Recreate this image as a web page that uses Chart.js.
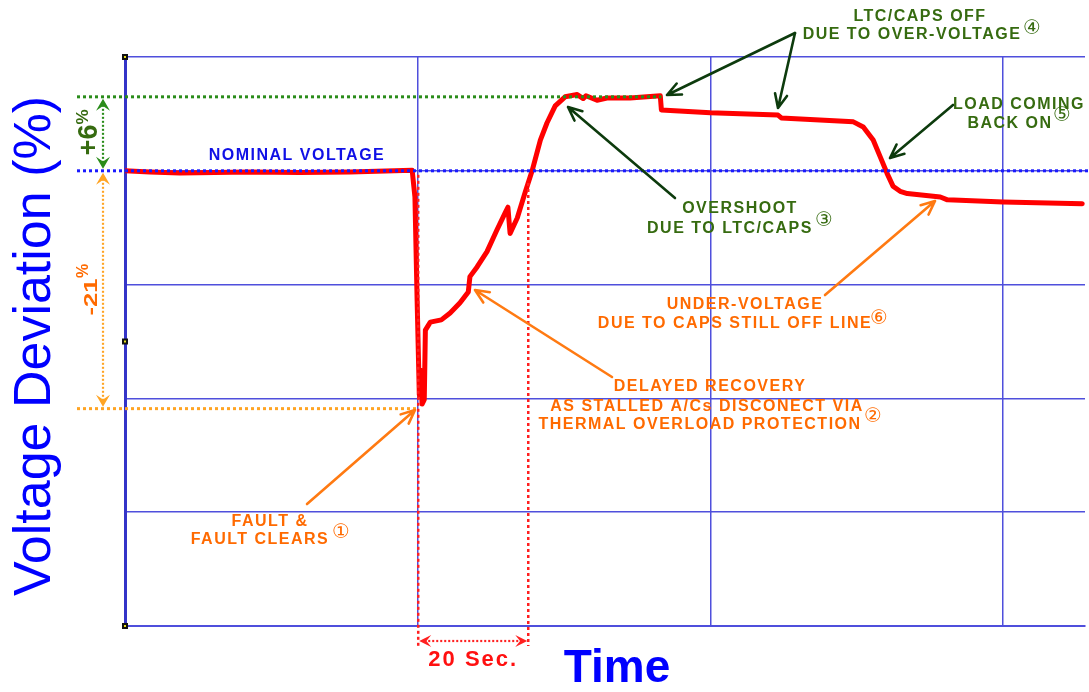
<!DOCTYPE html>
<html><head><meta charset="utf-8">
<script src="https://cdn.jsdelivr.net/npm/chart.js@4.4.1/dist/chart.umd.min.js"></script>
<style>html,body{margin:0;padding:0;background:#fff;overflow:hidden}#wrap{width:1089px;height:692px;position:relative}</style>
</head><body><div id="wrap"><canvas id="c" width="1089" height="692"></canvas></div>
<script>
// ---- data (time in seconds, voltage in % of nominal) ----
const timeSec = [0, 4.5, 10, 22.7, 31.8, 40.9, 52.2, 52.7, 53.1, 53.5, 53.7, 54.0, 54.4, 54.6, 55.5, 57.5, 59.1, 60.9, 62.4, 62.7, 64.0, 65.8, 67.6, 69.1, 69.6, 70.0, 71.3, 72.7, 74.0, 75.5, 76.7, 78.2, 80.0, 82.2, 83.3, 83.8, 85.8, 87.6, 91.8, 97.3, 97.5, 106.4, 118.7, 119.3, 132.4, 134.2, 136.0, 137.3, 138.5, 139.6, 140.9, 142.2, 148.2, 149.5, 159.6, 174.0];
const voltagePct = [100.0, 99.9, 99.8, 99.9, 99.85, 99.9, 100.05, 97.7, 88.6, 80.3, 82.5, 79.5, 79.9, 86.0, 86.7, 86.9, 87.5, 88.4, 89.35, 90.7, 91.55, 92.9, 94.8, 96.3, 96.8, 94.5, 95.85, 98.05, 100.0, 102.7, 104.2, 105.7, 106.5, 106.7, 106.35, 106.6, 106.2, 106.4, 106.4, 106.6, 105.35, 105.1, 104.9, 104.65, 104.3, 103.85, 102.7, 101.2, 99.8, 98.65, 98.2, 98.0, 97.7, 97.45, 97.25, 97.1];
const xGridTicks = [0, 53.3, 106.4, 159.6];
const yGridTicks = [60, 70, 80, 90, 100, 110];
const nominalPct = 100;
const overshootPct = 106.5;
const faultMinPct = 79.1;
const faultTime = 53.3;
const recoveryTime = 73.3;
const stepTime = 97.5;

const BLUE_GRID = '#4f4fdc', AXIS = '#3434c8';
const GREEN_TXT = '#366b10', GREEN_ARW = '#0d3b0d', ORANGE_TXT = '#ff6a00', ORANGE_ARW = '#ff7a12';

function arrowLine(ctx, x1, y1, x2, y2, color, lw, L) {
  ctx.save(); ctx.strokeStyle = color; ctx.lineWidth = lw; ctx.lineCap = 'round'; ctx.lineJoin = 'round';
  ctx.beginPath(); ctx.moveTo(x1, y1); ctx.lineTo(x2, y2);
  const a = Math.atan2(y2 - y1, x2 - x1), sp = 0.42; L = L || 15;
  ctx.moveTo(x2 - L * Math.cos(a - sp), y2 - L * Math.sin(a - sp)); ctx.lineTo(x2, y2);
  ctx.lineTo(x2 - L * Math.cos(a + sp), y2 - L * Math.sin(a + sp));
  ctx.stroke(); ctx.restore();
}
function head(ctx, x, y, ang, color, L, W) {
  ctx.save(); ctx.translate(x, y); ctx.rotate(ang); ctx.fillStyle = color;
  ctx.beginPath(); ctx.moveTo(0, 0); ctx.lineTo(-L, -W); ctx.lineTo(-L * 0.6, 0); ctx.lineTo(-L, W); ctx.closePath(); ctx.fill(); ctx.restore();
}
function dotted(ctx, x1, y1, x2, y2, color, lw, dash) {
  ctx.save(); ctx.strokeStyle = color; ctx.lineWidth = lw; ctx.setLineDash(dash || [3, 3]);
  ctx.beginPath(); ctx.moveTo(x1, y1); ctx.lineTo(x2, y2); ctx.stroke(); ctx.restore();
}
function txt(ctx, s, x, y, color, font, ls, align) {
  ctx.save(); ctx.font = font; ctx.fillStyle = color; ctx.textAlign = align || 'center'; ctx.textBaseline = 'alphabetic';
  try { ctx.letterSpacing = ls || '0px'; } catch (e) {}
  ctx.fillText(s, x, y); ctx.restore();
}
function vtxt(ctx, s, x, y, color, font, sx) {
  ctx.save(); ctx.translate(x, y); ctx.rotate(-Math.PI / 2); ctx.scale(sx || 1, 1);
  ctx.font = font; ctx.fillStyle = color; ctx.textAlign = 'center'; ctx.textBaseline = 'alphabetic';
  ctx.fillText(s, 0, 0); ctx.restore();
}

const LBL = 'bold 16px "Liberation Sans", Arial, sans-serif';
const LS = '1.5px';
const CIRC = '20px "DejaVu Sans", "Noto Sans CJK JP", sans-serif';

const annot = {
  id: 'annot',
  afterDatasetsDraw(chart) {
    const ctx = chart.ctx, xs = chart.scales.x, ys = chart.scales.y, ca = chart.chartArea;
    const yNom = ys.getPixelForValue(nominalPct), yOver = ys.getPixelForValue(overshootPct), yMin = ys.getPixelForValue(faultMinPct);
    const xF = xs.getPixelForValue(faultTime), xR = xs.getPixelForValue(recoveryTime), xStep = xs.getPixelForValue(stepTime);

    dotted(ctx, 77, yOver, xStep, yOver, '#2a8c1a', 3);
    dotted(ctx, 77, yMin, xF, yMin, '#ffa423', 3);
    dotted(ctx, 77, yNom, 1089, yNom, '#1a1aff', 3);

    dotted(ctx, 103, yOver + 8, 103, yNom - 8, '#2a8c1a', 2.2, [2, 2]);
    head(ctx, 103, yOver + 2, -Math.PI / 2, '#2a8c1a', 12, 7);
    head(ctx, 103, yNom - 2, Math.PI / 2, '#2a8c1a', 12, 7);
    dotted(ctx, 103, yNom + 8, 103, yMin - 8, '#ffa423', 2.2, [2, 2]);
    head(ctx, 103, yNom + 2, -Math.PI / 2, '#ffa423', 12, 7);
    head(ctx, 103, yMin - 2, Math.PI / 2, '#ffa423', 12, 7);
    vtxt(ctx, '+6', 97, 140, GREEN_TXT, 'bold 27px "Liberation Sans", Arial, sans-serif');
    vtxt(ctx, '%', 88, 117, GREEN_TXT, 'bold 17px "Liberation Sans", Arial, sans-serif');
    vtxt(ctx, '-21', 97, 297, ORANGE_TXT, 'bold 19px "Liberation Sans", Arial, sans-serif', 1.35);
    vtxt(ctx, '%', 88, 271, ORANGE_TXT, 'bold 16px "Liberation Sans", Arial, sans-serif');

    dotted(ctx, xF, yNom + 4, xF, 646, '#ff2020', 2.5);
    dotted(ctx, xR, 183, xR, 646, '#ff2020', 2.5);
    dotted(ctx, xF + 6, 641, xR - 6, 641, '#ff2020', 2.2, [2, 2]);
    head(ctx, xF + 1, 641, Math.PI, '#ff2020', 12, 6);
    head(ctx, xR - 1, 641, 0, '#ff2020', 12, 6);
    txt(ctx, '20 Sec.', (xF + xR) / 2, 666, '#ff1010', 'bold 22px "Liberation Sans", Arial, sans-serif', '2px');

    [ca.top, (ca.top + ca.bottom) / 2, ca.bottom].forEach(y => {
      ctx.fillStyle = '#111'; ctx.fillRect(ca.left - 3, y - 3, 6, 6);
      ctx.fillStyle = '#e8e020'; ctx.fillRect(ca.left - 1, y - 1, 2, 2);
    });

    txt(ctx, 'NOMINAL VOLTAGE', 297, 160, '#1010e6', LBL, LS);
    txt(ctx, 'LTC/CAPS OFF', 920, 21, GREEN_TXT, LBL, LS);
    txt(ctx, 'DUE TO OVER-VOLTAGE', 912, 39, GREEN_TXT, LBL, LS);
    txt(ctx, '\u2463', 1032, 34, GREEN_TXT, CIRC);
    txt(ctx, 'LOAD COMING', 1019, 109, GREEN_TXT, LBL, LS);
    txt(ctx, 'BACK ON', 1010, 128, GREEN_TXT, LBL, LS);
    txt(ctx, '\u2464', 1062, 121, GREEN_TXT, CIRC);
    txt(ctx, 'OVERSHOOT', 740, 213, GREEN_TXT, LBL, LS);
    txt(ctx, 'DUE TO LTC/CAPS', 730, 233, GREEN_TXT, LBL, LS);
    txt(ctx, '\u2462', 824, 226, GREEN_TXT, CIRC);
    txt(ctx, 'UNDER-VOLTAGE', 745, 309, ORANGE_TXT, LBL, LS);
    txt(ctx, 'DUE TO CAPS STILL OFF LINE', 735, 328, ORANGE_TXT, LBL, LS);
    txt(ctx, '\u2465', 879, 324, ORANGE_TXT, CIRC);
    txt(ctx, 'DELAYED RECOVERY', 710, 391, ORANGE_TXT, LBL, LS);
    txt(ctx, 'AS STALLED A/Cs DISCONECT VIA', 707, 411, ORANGE_TXT, LBL, LS);
    txt(ctx, 'THERMAL OVERLOAD PROTECTION', 700, 429, ORANGE_TXT, LBL, LS);
    txt(ctx, '\u2461', 873, 422, ORANGE_TXT, CIRC);
    txt(ctx, 'FAULT &', 270, 526, ORANGE_TXT, LBL, LS);
    txt(ctx, 'FAULT CLEARS', 260, 544, ORANGE_TXT, LBL, LS);
    txt(ctx, '\u2460', 341, 538, ORANGE_TXT, CIRC);

    arrowLine(ctx, 795, 33, 667, 95, GREEN_ARW, 2.6);
    arrowLine(ctx, 795, 33, 778, 108, GREEN_ARW, 2.6);
    arrowLine(ctx, 953, 105, 890, 158, GREEN_ARW, 2.6);
    arrowLine(ctx, 675, 198, 568, 107, GREEN_ARW, 2.6);
    arrowLine(ctx, 825, 295, 935, 201, ORANGE_ARW, 2.6);
    arrowLine(ctx, 612, 377, 475, 290, ORANGE_ARW, 2.6);
    arrowLine(ctx, 307, 504, 415, 410, ORANGE_ARW, 2.6);

    vtxt(ctx, 'Voltage Deviation (%)', 50, 346, '#0000ff', '52px "Liberation Sans", Arial, sans-serif');
    txt(ctx, 'Time', 617, 682, '#0000ff', 'bold 46px "Liberation Sans", Arial, sans-serif');
  }
};

const points = timeSec.map((t, i) => ({ x: t, y: voltagePct[i] }));
new Chart(document.getElementById('c'), {
  type: 'line',
  data: { datasets: [{ data: points, borderColor: '#ff0000', borderWidth: 5, pointRadius: 0, tension: 0,
    borderJoinStyle: 'round', borderCapStyle: 'round', fill: false }] },
  options: {
    responsive: false, animation: false, devicePixelRatio: 1,
    layout: { padding: { left: 125, right: 4, top: 57, bottom: 66 } },
    plugins: { legend: { display: false }, tooltip: { enabled: false } },
    scales: {
      x: { type: 'linear', min: 0, max: 174.5,
        afterBuildTicks: s => { s.ticks = xGridTicks.map(v => ({ value: v })); },
        ticks: { display: false },
        grid: { color: BLUE_GRID, lineWidth: 1.5, drawTicks: false },
        border: { display: true, color: BLUE_GRID, width: 2 } },
      y: { type: 'linear', min: 60, max: 110,
        afterBuildTicks: s => { s.ticks = yGridTicks.map(v => ({ value: v })); },
        ticks: { display: false },
        grid: { color: BLUE_GRID, lineWidth: 1.5, drawTicks: false },
        border: { display: true, color: AXIS, width: 3 } }
    }
  },
  plugins: [annot]
});
</script></body></html>
